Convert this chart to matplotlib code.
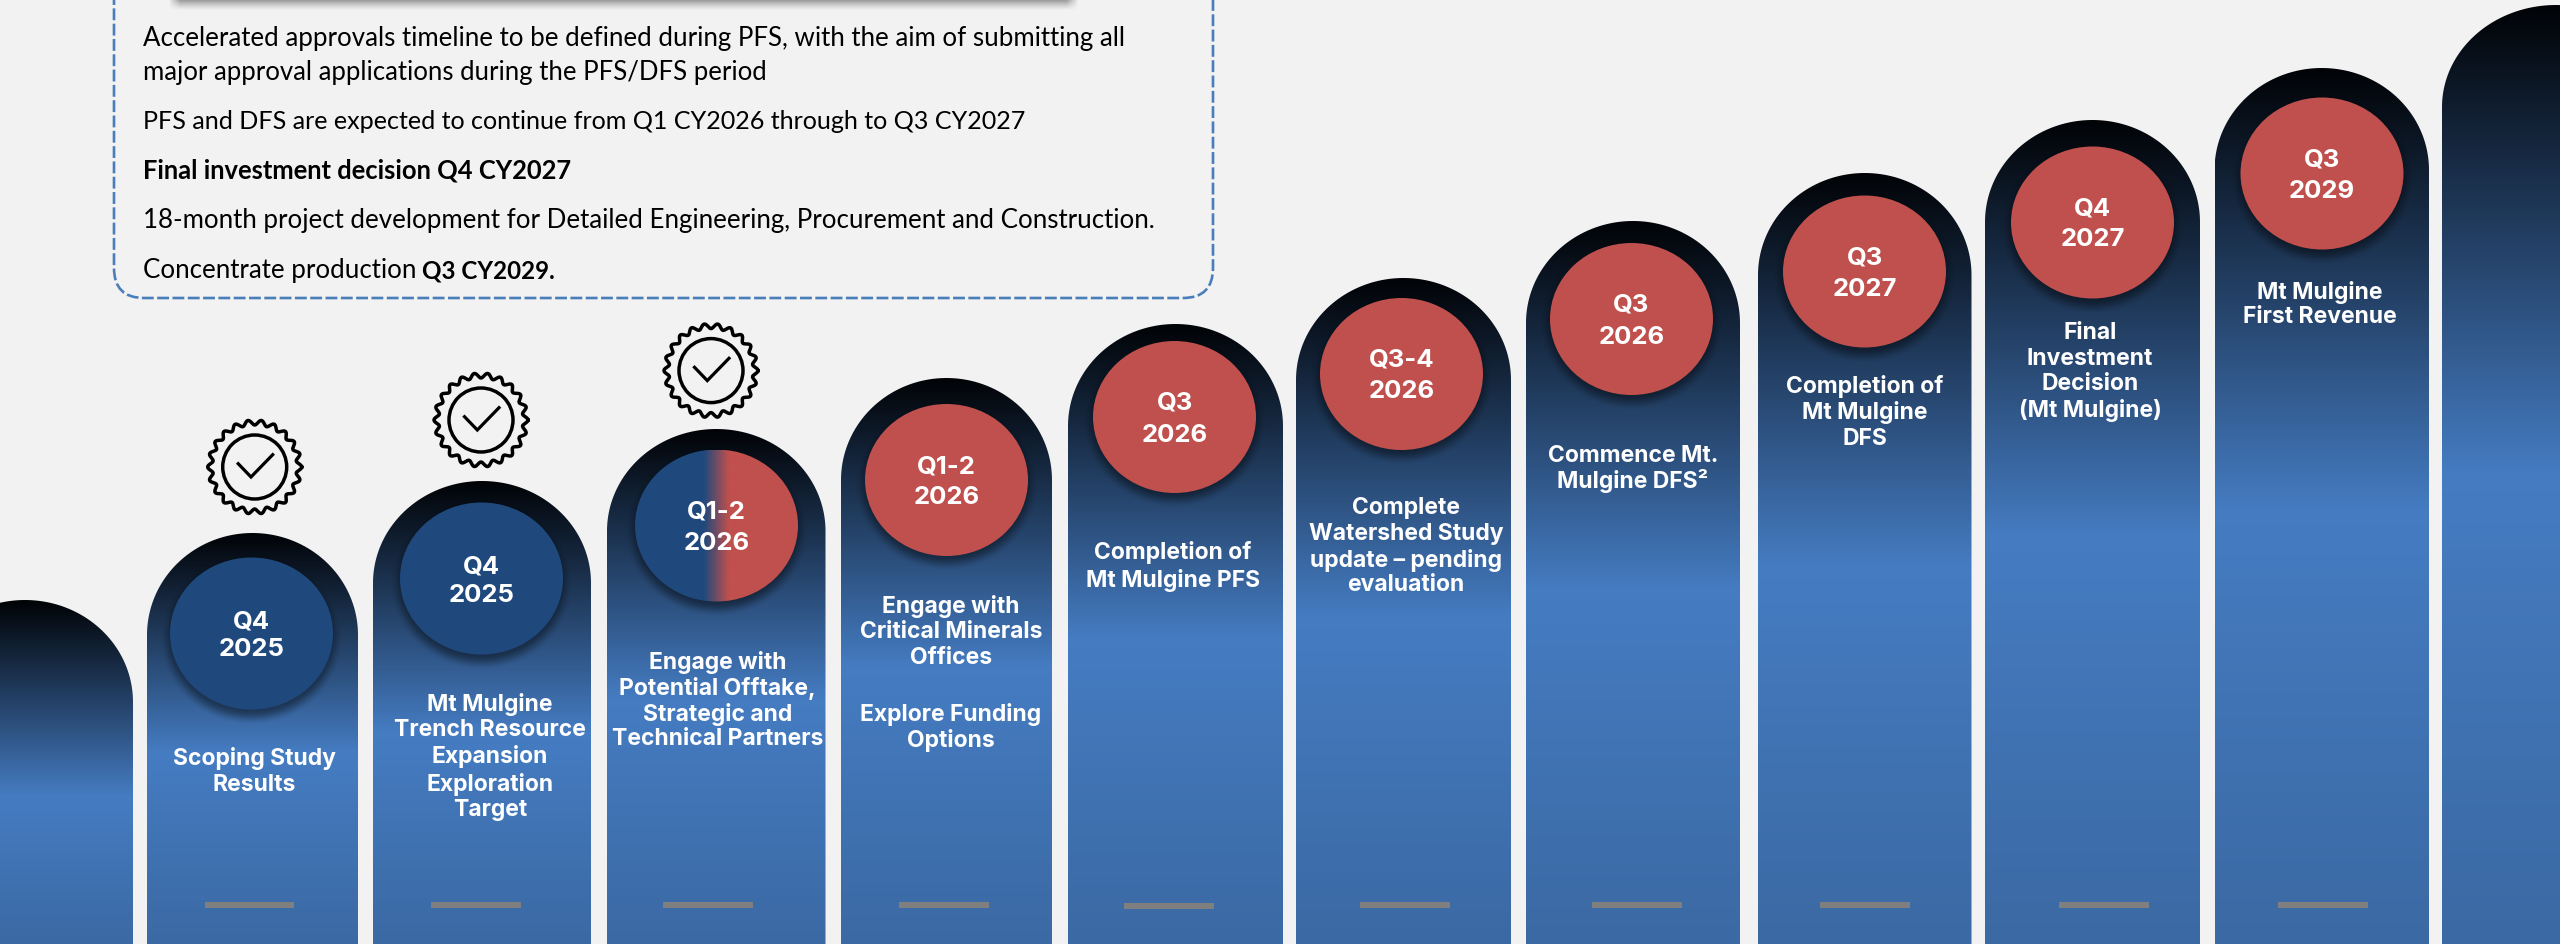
import numpy as np
import matplotlib
matplotlib.use("Agg")
import matplotlib.pyplot as plt
from matplotlib.patches import FancyBboxPatch, Polygon, Ellipse, Rectangle
from matplotlib.colors import LinearSegmentedColormap, to_rgb

# ---- content ----
quarter_labels = ["Q4", "Q4", "Q1-2", "Q1-2", "Q3", "Q3-4", "Q3", "Q3", "Q4", "Q3"]
year_labels = ["2025", "2025", "2026", "2026", "2026", "2026", "2026", "2027", "2027", "2029"]
status = ["done", "done", "split", "todo", "todo", "todo", "todo", "todo", "todo", "todo"]
milestones = [
    ["Scoping Study", "Results"],
    ["Mt Mulgine", "Trench Resource", "Expansion", "Exploration", "Target"],
    ["Engage with", "Potential Offtake,", "Strategic and", "Technical Partners"],
    ["Engage with", "Critical Minerals", "Offices", "Explore Funding", "Options"],
    ["Completion of", "Mt Mulgine PFS"],
    ["Complete", "Watershed Study", "update \u2013 pending", "evaluation"],
    ["Commence Mt.", "Mulgine DFS\u00b2"],
    ["Completion of", "Mt Mulgine", "DFS"],
    ["Final", "Investment", "Decision", "(Mt Mulgine)"],
    ["Mt Mulgine", "First Revenue"],
]
box_lines = [
    ("Accelerated approvals timeline to be defined during PFS, with the aim of submitting all", "normal"),
    ("major approval applications during the PFS/DFS period", "normal"),
    ("PFS and DFS are expected to continue from Q1 CY2026 through to Q3 CY2027", "normal"),
    ("Final investment decision Q4 CY2027", "bold"),
    ("18-month project development for Detailed Engineering, Procurement and Construction.", "normal"),
    ("Concentrate production ", "normal"),
]
box_tail = "Q3 CY2029."

# ---- layout (pixels of the slide) ----
W, H = 2560, 945
col_left = [-83, 147, 373, 607, 841, 1068, 1296, 1526, 1758, 1985, 2214.5, 2442]
col_right = [133, 358, 591, 825.5, 1052, 1283, 1511, 1740, 1971.5, 2200, 2429, 2670]
col_top = [601, 534, 482, 430, 379, 325, 279, 222, 174, 121, 69, 6]
col_peak = [797, 753, 733, 700, 668, 640, 618, 590, 567, 538, 512, 476]
cir_cx = [251.5, 481.5, 716.5, 946.5, 1174.5, 1401.5, 1631.5, 1864.5, 2092.5, 2322]
cir_cy = [634.5, 579.5, 526.5, 481, 418, 375, 320, 272.5, 223.5, 174.5]
cir_w = 163
cir_h = 152
q_y = [622, 567, 512, 467, 403, 360, 305, 258, 209, 160]
yr_y = [650, 596, 544, 498, 435, 391.5, 337, 289, 240, 192]
txt_x = [254, 490, 717.5, 951, 1173, 1406, 1633, 1865, 2090, 2320]
txt_y = [[759, 785], [705, 730, 756, 784, 810], [663, 688, 714, 739], [607, 632, 658, 715, 740],
         [553, 580.5], [508, 534, 560, 585], [455.5, 480.6], [387, 413, 439], [333, 359, 384, 410], [292, 317]]
dash_x0 = [204.5, 431, 663, 899, 1124, 1360, 1592, 1820, 2059, 2278]
dash_y = [903, 903, 903, 903, 904, 903, 903, 903, 903, 903]
badge_xy = [(254.7, 468), (481, 421), (711, 371.6)]
box_y = [38.5, 72.5, 121.5, 170.5, 220.5, 270.5]
box_size = [18.6, 18.5, 18.1, 18.4, 18.6, 18.6]

BG = "#f2f2f2"
BLUE = "#1f497d"
RED = "#c0504d"
plt.rcParams["font.family"] = ["Inter", "DejaVu Sans"]

fig = plt.figure(figsize=(W / 100, H / 100), dpi=100, facecolor=BG)
ax = fig.add_axes([0, 0, 1, 1])
ax.set_xlim(0, W)
ax.set_ylim(H, 0)
ax.axis("off")


def soft_ellipse(cx, cy, w, h, blur, alpha, z):
    x = np.arange(cx - w / 2 - blur * 2, cx + w / 2 + blur * 2, 1.0)
    y = np.arange(cy - h / 2 - blur * 2, cy + h / 2 + blur * 2, 1.0)
    xx, yy = np.meshgrid(x, y)
    d = np.hypot((xx - cx) / (w / 2), (yy - cy) / (h / 2))
    px = (d - 1) * (w + h) / 4
    a = np.clip(0.5 - px / (2 * blur), 0, 1)
    a = a * a * (3 - 2 * a) * alpha
    rgba = np.zeros(a.shape + (4,))
    rgba[..., 3] = a
    ax.imshow(rgba, extent=(x[0], x[-1], y[-1], y[0]), zorder=z, interpolation="bilinear", aspect="auto")


# top shadow bar of the box above the crop
ys = np.arange(0, 16)
xs = np.arange(170, 1080)
fade_y = np.clip((11 - ys) / 11.0, 0, 1) ** 1.3 * 0.5
edge = np.clip((xs - 168) / 12, 0, 1) * np.clip((1078 - xs) / 12, 0, 1)
barimg = np.zeros((len(ys), len(xs), 4))
barimg[..., :3] = 0.2
barimg[..., 3] = fade_y[:, None] * edge[None, :]
ax.imshow(barimg, extent=(170, 1080, 16, 0), zorder=1, interpolation="bilinear", aspect="auto")

# dashed box
ax.add_patch(FancyBboxPatch((114, -120), 1099, 419, boxstyle="round,pad=0,rounding_size=30",
                            fc="none", ec="#4a7ebb", lw=1.9, ls=(0, (4.5, 1.3)), zorder=2))
for (s, w), y, fs in zip(box_lines, box_y, box_size):
    ax.text(143, y, s, fontsize=fs, fontweight=w, family=["Lato", "DejaVu Sans"], color="black",
            va="center", ha="left", zorder=3)
ax.text(422, box_y[-1], box_tail, fontsize=17.4, fontweight="bold", family=["Lato", "DejaVu Sans"],
        color="black", va="center", ha="left", zorder=3)

# columns
black = np.array(to_rgb("#010306"))
bright = np.array(to_rgb("#457cc2"))
low = np.array(to_rgb("#3b69a3"))
for i, (l, r, t, p) in enumerate(zip(col_left, col_right, col_top, col_peak)):
    cx = (l + r) / 2
    a = (r - l) / 2
    b = 102
    th = np.linspace(np.pi, 2 * np.pi, 90)
    pts = np.column_stack([cx + a * np.cos(th), t + b + b * np.sin(th)])
    pts = np.vstack([[l, H + 5], pts, [r, H + 5]])
    poly = Polygon(pts, closed=True, fc="none", ec="none", zorder=4)
    ax.add_patch(poly)
    yy = np.arange(t, H + 5, 1.0)
    col = np.where((yy < p)[:, None],
                   black + (bright - black) * ((yy - t) / (p - t))[:, None],
                   bright + (low - bright) * np.clip((yy - p) / (H - p), 0, 1)[:, None])
    im = ax.imshow(col[:, None, :], extent=(l, r, H + 5, t), zorder=4, aspect="auto", interpolation="bilinear")
    im.set_clip_path(poly)

# circles
cmap_split = LinearSegmentedColormap.from_list("split", [BLUE, RED])
for i in range(10):
    cx, cy = cir_cx[i], cir_cy[i]
    soft_ellipse(cx, cy + 6, cir_w + 4, cir_h + 4, 8, 0.45, 5)
    if status[i] == "split":
        e = Ellipse((cx, cy), cir_w, cir_h, fc="none", ec="none", zorder=6)
        ax.add_patch(e)
        x = np.arange(cx - cir_w / 2, cx + cir_w / 2, 1.0)
        t_ = np.clip((x - (cx - 13)) / 25, 0, 1)[None, :]
        im = ax.imshow(t_, cmap=cmap_split, vmin=0, vmax=1, extent=(x[0], x[-1] + 1, cy + cir_h / 2, cy - cir_h / 2),
                       aspect="auto", zorder=6, interpolation="bilinear")
        im.set_clip_path(e)
    else:
        ax.add_patch(Ellipse((cx, cy), cir_w, cir_h, fc=BLUE if status[i] == "done" else RED, ec="none", zorder=6))
    ax.text(cx, q_y[i], quarter_labels[i], color="white", fontsize=18.5, fontweight="bold",
            ha="center", va="center", zorder=7)
    ax.text(cx, yr_y[i], year_labels[i], color="white", fontsize=18.5, fontweight="bold",
            ha="center", va="center", zorder=7)

# milestone text and grey dashes
for i in range(10):
    for s, y in zip(milestones[i], txt_y[i]):
        ax.text(txt_x[i], y, s, color="white", fontsize=16.5, fontweight="bold",
                ha="center", va="center", zorder=7)
    ax.add_patch(Rectangle((dash_x0[i], dash_y[i]), 89.5, 5.6, fc="#7f7f7f", ec="none", zorder=7))

# badges
for (bx, by) in badge_xy:
    th = np.linspace(0, 2 * np.pi, 721)
    rad = 44.5 + 2.5 * np.cos(22 * (th - np.pi / 2) + np.pi)
    ax.plot(bx + rad * np.cos(th), by + rad * np.sin(th), color="black", lw=2.5, zorder=8)
    ax.add_patch(Ellipse((bx, by), 64, 64, fc="none", ec="black", lw=2.5, zorder=8))
    ax.plot([bx - 16.5, bx - 3.7, bx + 18], [by - 3.3, by + 10, by - 12.3], color="black", lw=2.3,
            solid_joinstyle="miter", zorder=8)

ax.set_xlim(0, W)
ax.set_ylim(H, 0)
fig.savefig("out.png", dpi=100, facecolor=BG)
